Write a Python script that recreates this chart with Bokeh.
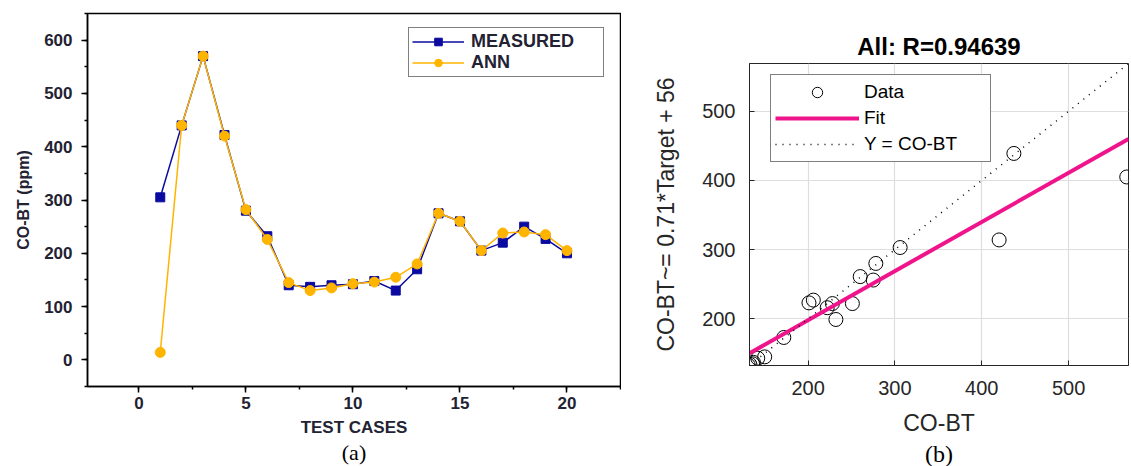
from bokeh.plotting import figure
from bokeh.models import (Range1d, Legend, LegendItem, Title, FixedTicker,
                          SingleIntervalTicker, ColumnDataSource)
from bokeh.embed import file_html
from bokeh.resources import INLINE

# ---------------- data: panel (a) ----------------
cases = list(range(1, 21))
measured = [305, 440, 570, 422, 280, 232, 140, 137, 140, 142,
            148, 130, 170, 275, 260, 205, 220, 250, 227, 200]
ann = [14, 440, 570, 420, 282, 226, 145, 130, 135, 143,
       146, 155, 180, 275, 260, 205, 238, 240, 235, 205]

# ---------------- data: panel (b) ----------------
targets = [437, 567, 420, 306, 278, 260, 275, 251, 201, 206,
           222, 228, 232, 172, 150, 142, 137, 133, 131, 136]
outputs = [439, 405, 314, 303, 280, 261, 256, 222, 223, 227,
           216, 222, 199, 173, 145, 143, 137, 134, 133, 135]
fit_slope = 0.71
fit_intercept = 56
axis_lims = [132.5, 569]
b_ticks = [200, 300, 400, 500]
title_b = "All: R=0.94639"

BLUE = "#0a0aa0"
ORANGE = "#ffb400"
PINK = "#f0148c"
SANS = "Liberation Sans"
SERIF = "Liberation Serif"

# ================= panel (a) =================
p1 = figure(width=621, height=466, x_range=Range1d(-2.4, 22.5),
            y_range=Range1d(-50, 650), output_backend="svg",
            toolbar_location=None, min_border_left=87, min_border_right=1,
            min_border_top=13, min_border_bottom=80)
p1.styles = {"position": "absolute", "left": "0px", "top": "0px"}
p1.background_fill_color = "white"
p1.border_fill_color = "white"
p1.xgrid.visible = False
p1.ygrid.visible = False
p1.outline_line_color = "black"
p1.outline_line_width = 1.5
p1.xaxis.ticker = SingleIntervalTicker(interval=5, num_minor_ticks=2)
p1.yaxis.ticker = SingleIntervalTicker(interval=100, num_minor_ticks=2)
for ax in (p1.xaxis[0], p1.yaxis[0]):
    ax.major_tick_out = 6
    ax.major_tick_in = 0
    ax.minor_tick_out = 3
    ax.minor_tick_in = 0
    ax.axis_line_width = 1.5
    ax.major_tick_line_width = 1.5
    ax.minor_tick_line_width = 1.5
    ax.major_label_text_font = SANS
    ax.major_label_text_font_size = "17px"
    ax.major_label_text_font_style = "bold"
    ax.major_label_text_color = "#222233"
    ax.axis_label_text_font = SANS
    ax.axis_label_text_font_style = "bold"
    ax.axis_label_text_color = "#222233"
p1.xaxis.axis_label = "TEST CASES"
p1.xaxis.axis_label_text_font_size = "17px"
p1.xaxis.major_label_standoff = 4
p1.xaxis.axis_label_standoff = 6
p1.yaxis.axis_label = "CO-BT (ppm)"
p1.yaxis.axis_label_text_font_size = "16px"
p1.yaxis.major_label_standoff = 9
p1.yaxis.axis_label_standoff = 9

src = ColumnDataSource(dict(case=cases, measured=measured, ann=ann))
lm = p1.line("case", "measured", source=src, color=BLUE, line_width=1.5)
sm = p1.scatter("case", "measured", source=src, marker="square", size=9,
                color=BLUE)
la = p1.line("case", "ann", source=src, color=ORANGE, line_width=1.5)
sa = p1.scatter("case", "ann", source=src, marker="circle", size=10,
                color=ORANGE)

leg1 = Legend(items=[LegendItem(label="MEASURED", renderers=[lm, sm]),
                     LegendItem(label="ANN", renderers=[la, sa])],
              location=(321, 309), padding=3, spacing=0, margin=0,
              glyph_width=52, glyph_height=19, label_height=19,
              label_width=129, label_standoff=7,
              border_line_color="black", border_line_width=1.5,
              label_text_font=SANS, label_text_font_size="18px",
              label_text_font_style="bold", label_text_color="#222233")
p1.add_layout(leg1)
p1.add_layout(Title(text="(a)", align="center", offset=-23, standoff=-3,
                    text_font=SERIF, text_font_size="22px",
                    text_font_style="normal", text_color="black"), "below")

# ================= panel (b) =================
p2 = figure(width=510, height=466, x_range=Range1d(*axis_lims),
            y_range=Range1d(*axis_lims), output_backend="svg",
            toolbar_location=None, min_border_left=128, min_border_right=3,
            min_border_top=63, min_border_bottom=98, title=title_b)
p2.styles = {"position": "absolute", "left": "621px", "top": "0px"}
p2.background_fill_color = "white"
p2.border_fill_color = "white"
p2.title.align = "center"
p2.title.text_font = SANS
p2.title.text_font_size = "24px"
p2.title.text_font_style = "bold"
p2.title.text_color = "black"
p2.title.standoff = 8
p2.outline_line_color = "#262626"
p2.outline_line_width = 1
p2.xaxis.ticker = FixedTicker(ticks=b_ticks)
p2.yaxis.ticker = FixedTicker(ticks=b_ticks)
p2.xgrid.grid_line_color = "#dedede"
p2.ygrid.grid_line_color = "#dedede"
p2.xgrid.grid_line_width = 1.2
p2.ygrid.grid_line_width = 1.2
for ax in (p2.xaxis[0], p2.yaxis[0]):
    ax.axis_line_color = "#262626"
    ax.major_tick_in = 5
    ax.major_tick_out = 0
    ax.major_tick_line_color = "#262626"
    ax.minor_tick_line_color = None
    ax.major_label_text_font = SANS
    ax.major_label_text_font_size = "20px"
    ax.major_label_text_color = "#262626"
    ax.axis_label_text_font = SANS
    ax.axis_label_text_font_size = "23px"
    ax.axis_label_text_font_style = "normal"
    ax.axis_label_text_color = "#262626"
p2.xaxis.major_label_standoff = 15
p2.xaxis.axis_label_standoff = 12
p2.yaxis.major_label_standoff = 14
p2.yaxis.axis_label_standoff = 20
p2.xaxis.axis_label = "CO-BT"
p2.yaxis.axis_label = "CO-BT~= 0.71*Target + 56"

fit_y = [fit_slope * v + fit_intercept for v in axis_lims]
sc = p2.scatter(targets, outputs, marker="circle", size=14, fill_color=None,
                line_color="black", line_width=1)
fl = p2.line(axis_lims, fit_y, color=PINK, line_width=4)
dl = p2.line(axis_lims, axis_lims, color="black", line_dash="1 6",
             line_width=1.5)

leg2 = Legend(items=[LegendItem(label="Data", renderers=[sc]),
                     LegendItem(label="Fit", renderers=[fl]),
                     LegendItem(label="Y = CO-BT", renderers=[dl])],
              location=(21, 203), padding=4, spacing=0, margin=0,
              glyph_width=84, glyph_height=26, label_height=26,
              label_width=122, label_standoff=5,
              border_line_color="black", border_line_width=1,
              label_text_font=SANS, label_text_font_size="19px",
              label_text_color="black")
p2.add_layout(leg2)
p2.add_layout(Title(text="(b)", align="center", offset=-27, standoff=0,
                    text_font=SERIF, text_font_size="24px",
                    text_font_style="normal", text_color="black"), "below")

open("out.html", "w").write(file_html([p1, p2], INLINE))
